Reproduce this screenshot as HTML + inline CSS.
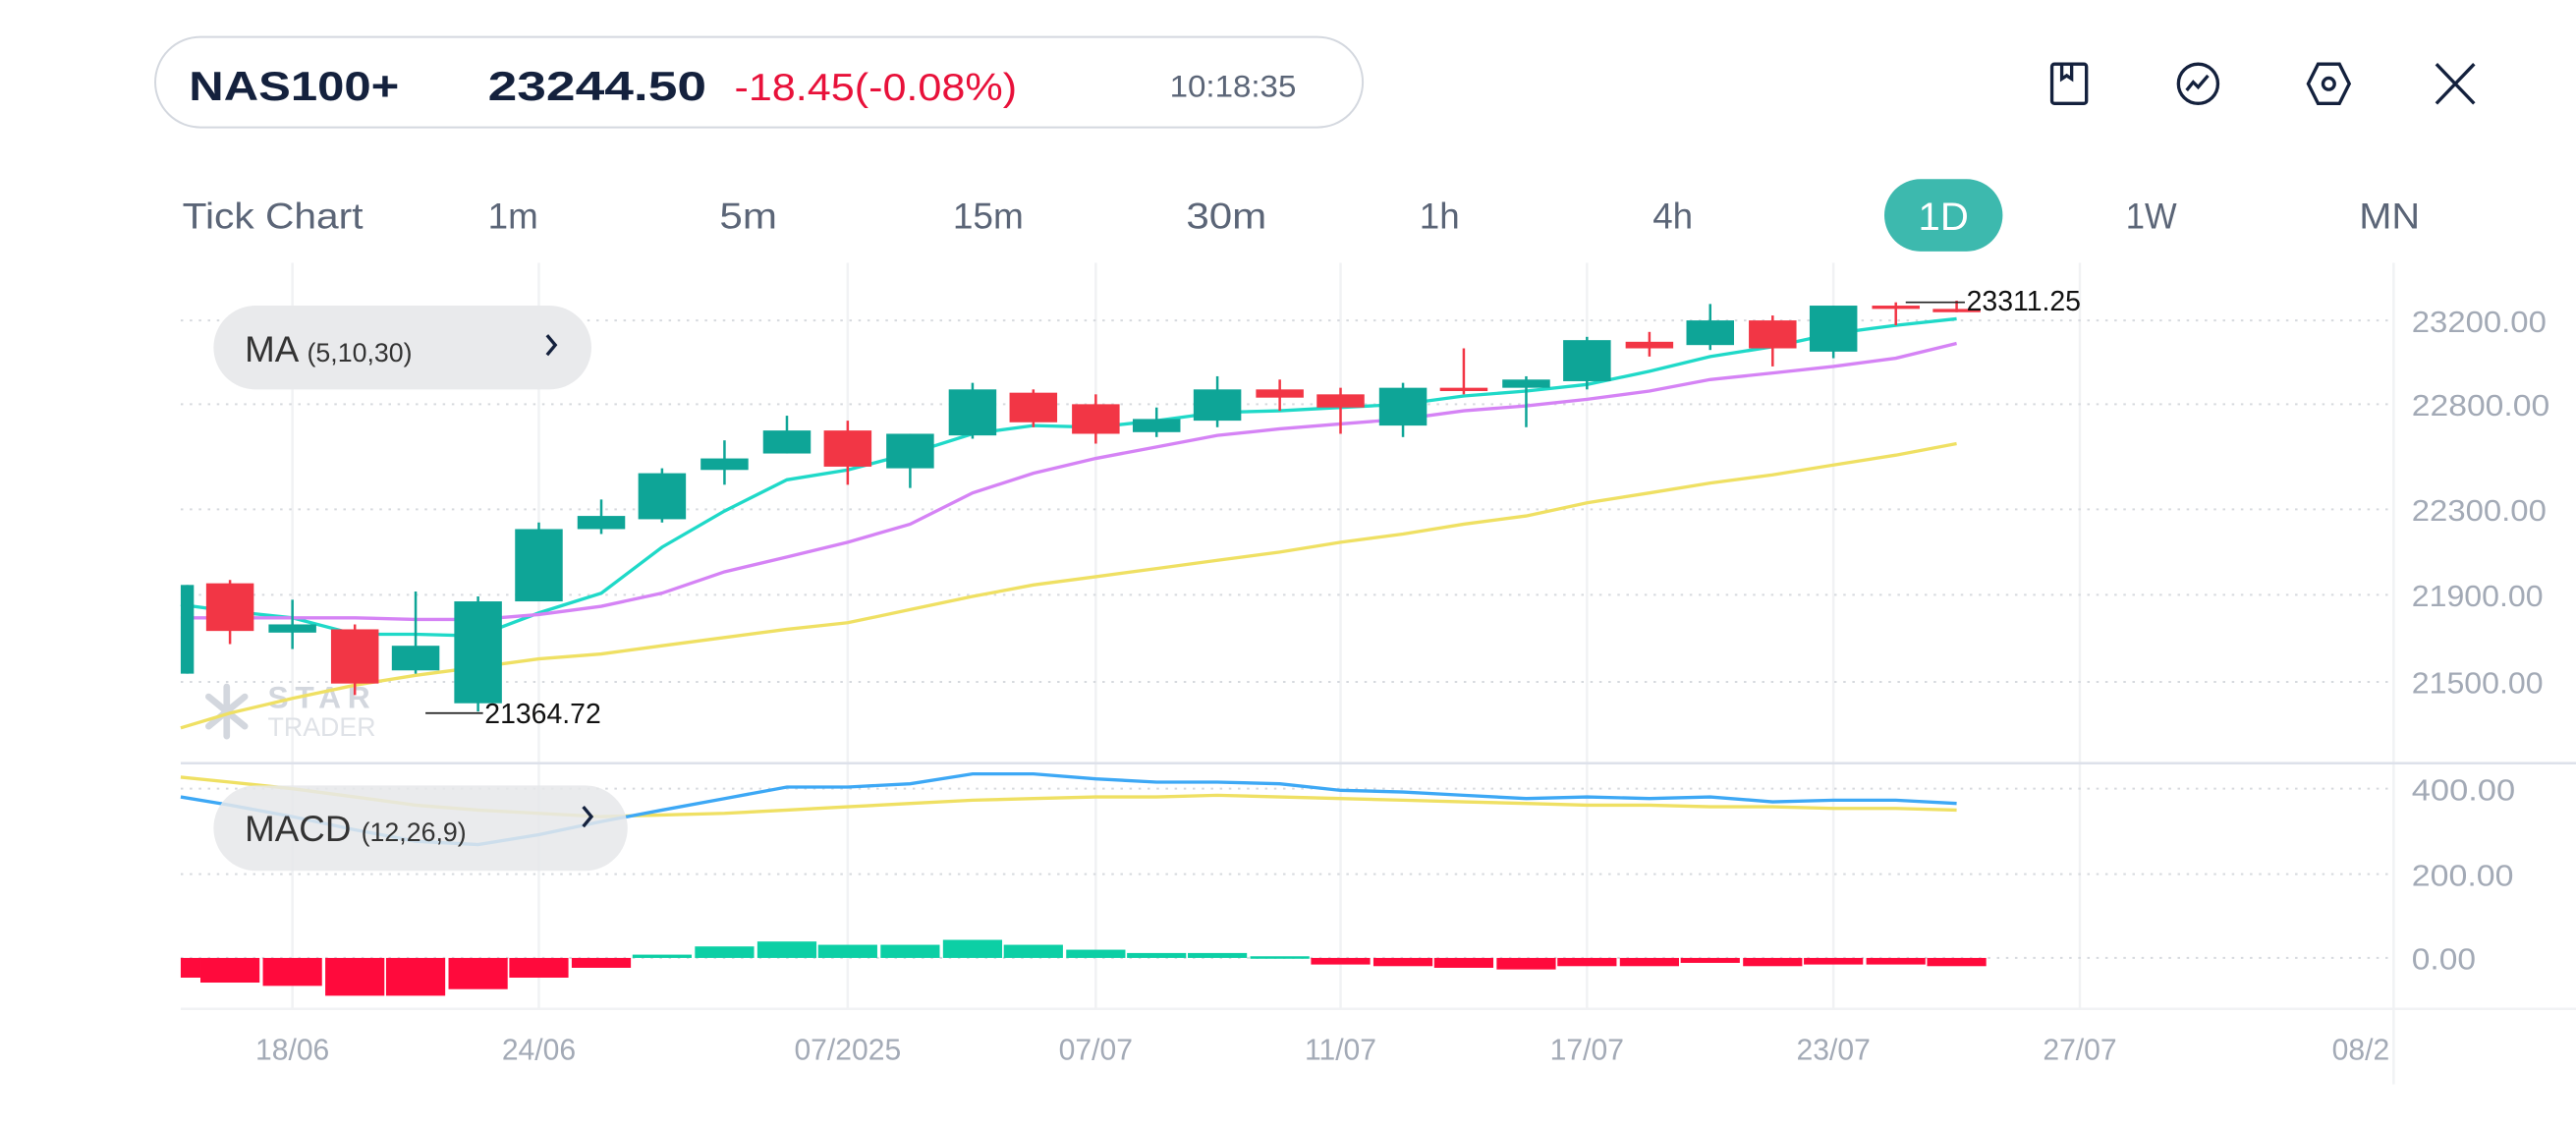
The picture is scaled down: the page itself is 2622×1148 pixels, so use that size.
<!DOCTYPE html>
<html><head><meta charset="utf-8"><style>
html,body{margin:0;padding:0;background:#fff;width:2622px;height:1148px;overflow:hidden}
svg{display:block}
text{font-family:"Liberation Sans",sans-serif}
</style></head><body>
<svg id="s" width="2622" height="1148" viewBox="0 0 1568 686.5" preserveAspectRatio="none" xmlns="http://www.w3.org/2000/svg">
<rect x="0" y="0" width="1568" height="687" fill="#fff"/>
<rect x="94.5" y="22.5" width="735" height="55" rx="27.5" fill="#fff" stroke="#d4d8df" stroke-width="1.2"/>
<text x="115" y="61" font-size="25" font-weight="bold" fill="#14213d" textLength="128" lengthAdjust="spacingAndGlyphs">NAS100+</text>
<text x="297" y="61" font-size="25" font-weight="bold" fill="#14213d" textLength="133" lengthAdjust="spacingAndGlyphs">23244.50</text>
<text x="447" y="61" font-size="23" fill="#e8113a" textLength="172" lengthAdjust="spacingAndGlyphs">-18.45(-0.08%)</text>
<text x="712" y="59" font-size="19" fill="#5b6577" textLength="77" lengthAdjust="spacingAndGlyphs">10:18:35</text>
<g fill="none" stroke="#14213d" stroke-width="2">
<rect x="1249" y="39" width="21" height="24" rx="1.5"/><path d="M1255 39v9l3-2 3 2v-9"/>
<circle cx="1338" cy="51" r="12"/><path d="M1331 55l4-5 3 3 6-7"/>
<path d="M1411 39h13l6 12-6 12h-13l-6-12z"/><circle cx="1417.5" cy="51" r="3.5"/>
<path d="M1483 39l23 24M1506 39l-23 24"/>
</g>
<g font-size="22" fill="#5b6577">
<text x="111" y="139" textLength="110" lengthAdjust="spacingAndGlyphs">Tick Chart</text><text x="297" y="139">1m</text><text x="438" y="139" textLength="35" lengthAdjust="spacingAndGlyphs">5m</text>
<text x="580" y="139" textLength="43" lengthAdjust="spacingAndGlyphs">15m</text><text x="722" y="139" textLength="49" lengthAdjust="spacingAndGlyphs">30m</text><text x="864" y="139">1h</text>
<text x="1006" y="139">4h</text><text x="1294" y="139" textLength="31" lengthAdjust="spacingAndGlyphs">1W</text><text x="1436" y="139" textLength="37" lengthAdjust="spacingAndGlyphs">MN</text>
</g>
<rect x="1147" y="109" width="72" height="44" rx="22" fill="#3db9ae"/>
<text x="1183" y="140" font-size="24" fill="#fff" text-anchor="middle">1D</text>
<g stroke="#f1f2f4" stroke-width="1.5">
<line x1="178" y1="160" x2="178" y2="614"/><line x1="328" y1="160" x2="328" y2="614"/><line x1="516" y1="160" x2="516" y2="614"/>
<line x1="667" y1="160" x2="667" y2="614"/><line x1="816" y1="160" x2="816" y2="614"/><line x1="966" y1="160" x2="966" y2="614"/>
<line x1="1116" y1="160" x2="1116" y2="614"/><line x1="1266" y1="160" x2="1266" y2="614"/><line x1="1457" y1="160" x2="1457" y2="660"/>
</g>
<g stroke="#d6d9de" stroke-width="1.2" stroke-dasharray="1.5 4">
<line x1="110" y1="195" x2="1455" y2="195"/><line x1="110" y1="246" x2="1455" y2="246"/><line x1="110" y1="310" x2="1455" y2="310"/>
<line x1="110" y1="362" x2="1455" y2="362"/><line x1="110" y1="415" x2="1455" y2="415"/>
<line x1="110" y1="480" x2="1455" y2="480"/><line x1="110" y1="532" x2="1455" y2="532"/><line x1="110" y1="583" x2="1455" y2="583"/>
</g>
<line x1="110" y1="464.5" x2="1568" y2="464.5" stroke="#dde1ea" stroke-width="1.5"/>
<line x1="110" y1="614" x2="1568" y2="614" stroke="#f1f2f4" stroke-width="1.5"/>
<g font-size="18" fill="#a3aab6">
<text x="1468" y="202" textLength="82" lengthAdjust="spacingAndGlyphs">23200.00</text><text x="1468" y="253" textLength="84" lengthAdjust="spacingAndGlyphs">22800.00</text><text x="1468" y="317" textLength="82" lengthAdjust="spacingAndGlyphs">22300.00</text>
<text x="1468" y="369" textLength="80" lengthAdjust="spacingAndGlyphs">21900.00</text><text x="1468" y="422" textLength="80" lengthAdjust="spacingAndGlyphs">21500.00</text>
<text x="1468" y="487" textLength="63" lengthAdjust="spacingAndGlyphs">400.00</text><text x="1468" y="539" textLength="62" lengthAdjust="spacingAndGlyphs">200.00</text><text x="1468" y="590" textLength="39" lengthAdjust="spacingAndGlyphs">0.00</text>
</g>
<g font-size="18" fill="#a3aab6" text-anchor="middle">
<text x="178" y="645">18/06</text><text x="328" y="645">24/06</text><text x="516" y="645">07/2025</text>
<text x="667" y="645">07/07</text><text x="816" y="645">11/07</text><text x="966" y="645">17/07</text>
<text x="1116" y="645">23/07</text><text x="1266" y="645">27/07</text><text x="1437" y="645">08/2</text>
</g>
<g stroke="#d3d7de" stroke-width="4" stroke-linecap="round"><path d="M138 418v30M127 424l22 18M149 424l-22 18"/></g>
<text x="163" y="431" font-size="19" font-weight="bold" fill="#d3d7de" letter-spacing="4">STAR</text>
<text x="163" y="448" font-size="16" fill="#dfe2e7">TRADER</text>
<g id="dyn"></g>
<rect x="130" y="186" width="230" height="51" rx="25.5" fill="#e9eaec"/>
<text x="149" y="220" font-size="22" fill="#333">MA <tspan font-size="16">(5,10,30)</tspan></text>
<path d="M333 204l5 6-5 6" fill="none" stroke="#14213d" stroke-width="2"/>
<rect x="130" y="478" width="252" height="52" rx="26" fill="#e6e7ea" fill-opacity="0.85"/>
<text x="149" y="512" font-size="22" fill="#333">MACD <tspan font-size="16">(12,26,9)</tspan></text>
<path d="M355 491l5 6-5 6" fill="none" stroke="#14213d" stroke-width="2"/>
<line x1="1160" y1="184" x2="1196" y2="184" stroke="#222" stroke-width="1"/>
<text x="1197" y="189" font-size="17" fill="#111">23311.25</text>
<line x1="259" y1="434" x2="294" y2="434" stroke="#222" stroke-width="1"/>
<text x="295" y="440" font-size="17" fill="#111">21364.72</text>
</svg>
<script>
var G='#0ea597',R='#f23645';
var c=[[110,356,410,356,410,G],[140,355,384,353,392,R],[178,380,385,365,395,G],[216,383,416,380,423,R],[253,393,408,360,410,G],[291,366,428,363,433,G],[328,322,366,318,366,G],[366,314,322,304,325,G],[403,288,316,285,318,G],[441,279,286,268,295,G],[479,262,276,253,276,G],[516,262,284,256,295,R],[554,264,285,264,297,G],[592,237,265,233,267,G],[629,239,257,237,260,R],[667,246,264,240,270,R],[704,255,263,248,266,G],[741,237,256,229,260,G],[779,237,242,231,250,R],[816,240,248,236,264,R],[854,236,259,233,266,G],[891,236,238,212,240,R],[929,231,236,229,260,G],[966,207,232,205,237,G],[1004,208,212,202,217,R],[1041,195,210,185,213,G],[1079,195,212,192,223,R],[1116,186,214,186,218,G],[1154,186,188,184,198,R],[1191,188,190,183,190,R]];
var xs=c.map(a=>a[0]);
function pl(ys,col){return '<polyline fill="none" stroke="'+col+'" stroke-width="2" points="'+ys.map((y,i)=>xs[i]+','+y).join(' ')+'"/>';}
var h='';
h+=pl([368,372,376,386,386,387,373,361,333,311,292,286,276,264,259,260,256,251,250,248,246,241,238,234,226,217,211,203,198,194],'#1fd9c8');
h+=pl([376,376,376,376,377,377,374,369,361,348,339,330,319,300,288,279,272,265,261,258,255,250,247,243,238,231,227,223,218,209],'#d583f5');
h+=pl([443,434,425,417,411,406,401,398,393,388,383,379,371,363,356,351,346,341,336,330,325,319,314,306,300,294,289,283,277,270],'#efe063');
c.forEach(function(a){var x=a[0],w=29,l=x-w/2;if(x==110){l=110;w=8;}
h+='<line x1="'+(x==110?114:x)+'" y1="'+a[3]+'" x2="'+(x==110?114:x)+'" y2="'+a[4]+'" stroke="'+a[5]+'" stroke-width="1.5"/>';
h+='<rect x="'+l+'" y="'+a[1]+'" width="'+w+'" height="'+Math.max(2,a[2]-a[1])+'" fill="'+a[5]+'"/>';});
var hb=[595,598,600,606,606,602,595,589,581,576,573,575,575,572,575,578,580,580,582,587,588,589,590,588,588,586,588,587,587,588];
hb.forEach(function(y,i){var x=xs[i],l=x-18,r=x+18;if(i==0){l=110;r=122;}var t=Math.min(y,583),b=Math.max(y,583);
h+='<rect x="'+l+'" y="'+t+'" width="'+(r-l)+'" height="'+Math.max(1.5,b-t)+'" fill="'+(y>583?'#ff0a3c':'#0ccfa5')+'"/>';});
h+=pl([473,476,480,485,490,493,495,497,496,495,493,491,489,487,486,485,485,484,485,486,487,488,489,490,490,491,491,492,492,493],'#efe063');
h+=pl([485,490,497,505,512,514,508,500,493,486,479,479,477,471,471,474,476,476,477,481,482,484,486,485,486,485,488,487,487,489],'#3da8f5');
document.getElementById('dyn').innerHTML=h;
</script>
</body></html>
